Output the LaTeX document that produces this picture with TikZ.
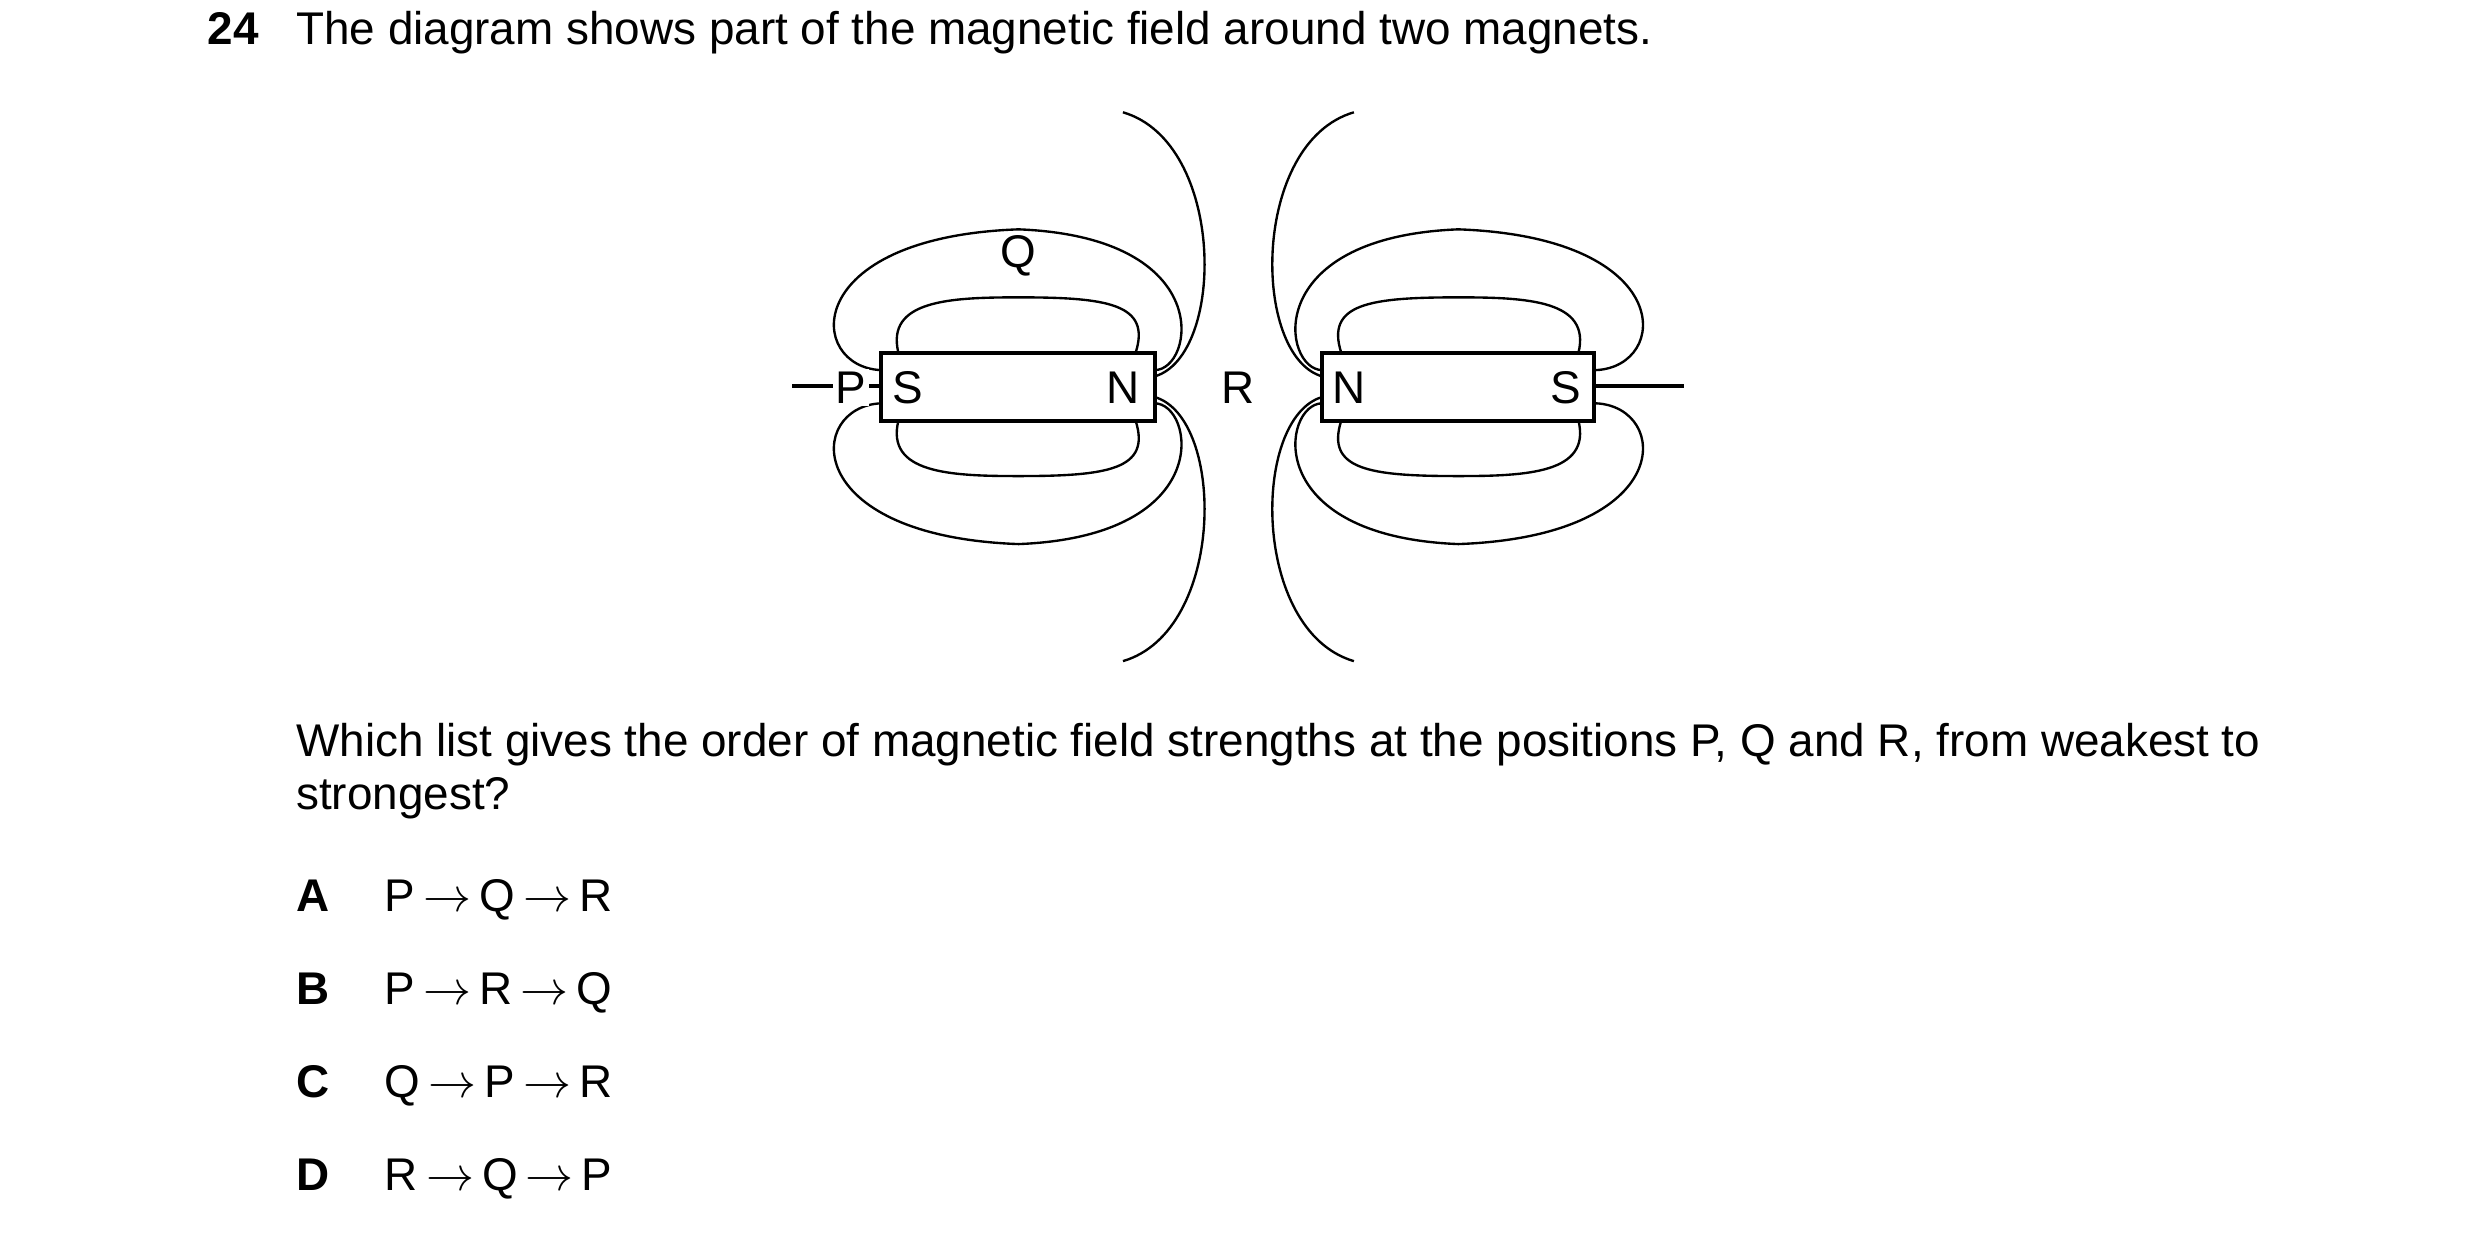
\documentclass[tikz,border=0pt]{standalone}
\usepackage{fontspec}
\setmainfont{Liberation Sans}
\begin{document}
\begin{tikzpicture}[x=0.02cm,y=-0.02cm,
  txt/.style={inner sep=0pt,anchor=base west,font=\fontsize{16.5}{20}\selectfont},
  lbl/.style={inner sep=1pt,font=\fontsize{16.5}{20}\selectfont},
  fld/.style={line width=0.85pt},
  mag/.style={line width=1.4pt,fill=white}]
\useasboundingbox (0,0) rectangle (1568,781);
\node[txt,font=\fontsize{16.5}{20}\selectfont\bfseries] (n24) at (131,28) {24};
\node[txt] (t1) at (187,28) {The diagram shows part of the magnetic field around two magnets.};
% field
\foreach \s in {1,-1}{
 \foreach \t in {1,-1}{
  \begin{scope}[shift={(783,244.5)},xscale=\s,yscale=\t]
   \draw[fld] (-226,-10.5) .. controls (-273,-12.5) and (-278,-94.5) .. (-139,-99.5) .. controls (-13,-94.5) and (-28,-10.5) .. (-53,-10.5);
   \draw[fld] (-215,-21.5) .. controls (-223,-54.5) and (-183,-56.5) .. (-139,-56.5) .. controls (-83,-56.5) and (-55,-52.5) .. (-65,-21.5);
   \draw[fld] (-53,-6.5) .. controls (-8,-19.5) and (-8,-154.5) .. (-73,-173.5);
  \end{scope}
 }}
\draw[line width=1.3pt] (501,244) -- (557,244);
\draw[line width=1.3pt] (1008,244) -- (1065,244);
\draw[mag] (557,223) rectangle (730,266);
\draw[mag] (836,223) rectangle (1008,266);
\node[lbl,fill=white] (P) at (538,245) {P};
\node[lbl] (S1) at (574,245) {S};
\node[lbl] (N1) at (710,245) {N};
\node[lbl] (R) at (783,245) {R};
\node[lbl] (N2) at (853,245) {N};
\node[lbl] (S2) at (990,245) {S};
\node[lbl] (Q) at (644,162) {Q};
\node[txt] (q1) at (187,478) {Which list gives the order of magnetic field strengths at the positions P, Q and R, from weakest to};
\node[txt] (q2) at (187,512) {strongest?};
\foreach \L/\E/\y in {A/{P$\,\rightarrow\,$Q$\,\rightarrow\,$R}/576,B/{P$\,\rightarrow\,$R$\,\rightarrow\,$Q}/635,C/{Q$\,\rightarrow\,$P$\,\rightarrow\,$R}/694,D/{R$\,\rightarrow\,$Q$\,\rightarrow\,$P}/753}{
 \node[txt,font=\fontsize{16.5}{20}\selectfont\bfseries] (l\L) at (187,\y) {\L};
 \node[txt] (e\L) at (243,\y) {\E};
}
\end{tikzpicture}
\end{document}
